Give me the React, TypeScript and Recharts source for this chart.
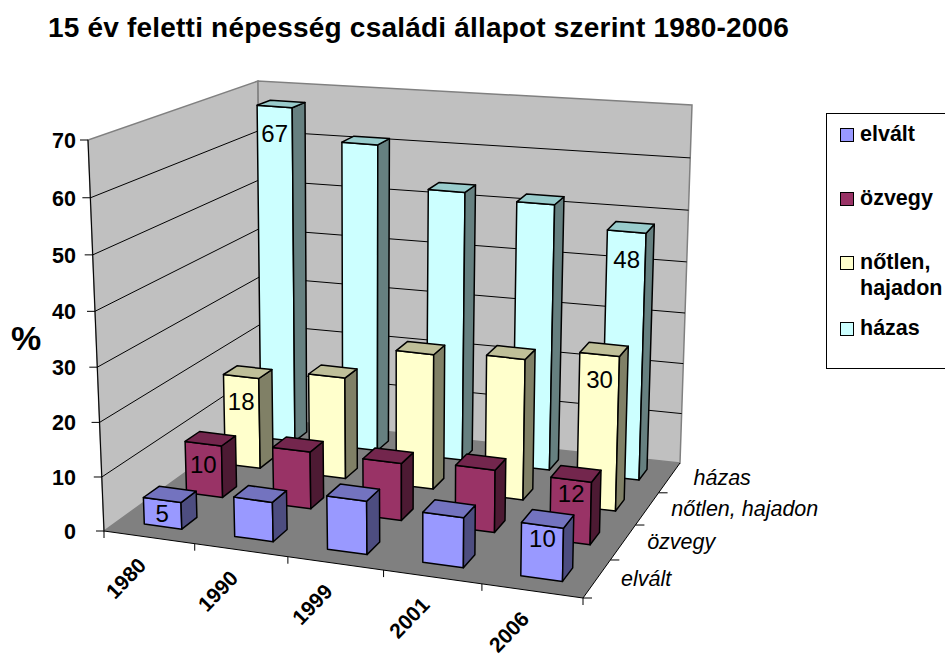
import React from 'react';
import { ComposedChart, Bar, XAxis, YAxis, CartesianGrid, Legend } from 'recharts';

const YEARS = ['1980', '1990', '1999', '2001', '2006'];
const HAZAS = [67.3, 61.3, 53.4, 52.4, 48.4];
const NOTLEN = [18, 20, 26.5, 27.5, 30];
const OZVEGY = [10, 11, 11, 12, 12];
const ELVALT = [5, 7.4, 10, 9.4, 10];
const Y_TICKS = [0, 10, 20, 30, 40, 50, 60, 70];
const DEPTH_TICKS = [0.5, 1.5, 2.5, 3.5];
const DEPTH_LABELS = ['elvált', 'özvegy', 'nőtlen, hajadon', 'házas'];

const W = 945;
const H = 655;
const FONT = '"Liberation Sans", Arial, sans-serif';

// corners of the 3D box on screen: front/back, left/right, bottom/top
const FLB = [104, 531];
const FRB = [583, 598];
const BRB = [680, 463];
const BLB = [261, 418];
const FLT = [88, 140];
const FRT = [591, 210];
const BRT = [692, 105];
const BLT = [258, 81];

const warp = (t: number, r: number) => t / (t + (1 - t) * r);
const mix = (a: number[], b: number[], t: number) => [a[0] + (b[0] - a[0]) * t, a[1] + (b[1] - a[1]) * t];

// u along the years, d into the depth, h up the value axis, all 0..1
function project(u: number, d: number, h: number) {
  const uu = warp(u, 1.07);
  const dd = warp(d, 0.85);
  const hh = warp(h, 1.04);
  const front = mix(mix(FLB, FRB, uu), mix(FLT, FRT, uu), hh);
  const back = mix(mix(BLB, BRB, uu), mix(BLT, BRT, uu), hh);
  return mix(front, back, dd);
}

const pts = (list: number[][]) => list.map((p) => `${p[0].toFixed(1)},${p[1].toFixed(1)}`).join(' ');

const rows = YEARS.map((year, i) => ({
  year,
  hazas: HAZAS[i],
  notlen: NOTLEN[i],
  ozvegy: OZVEGY[i],
  elvalt: ELVALT[i],
}));

// back row first so that the front rows cover it
const SERIES = [
  { key: 'hazas', name: 'házas', depth: 3, front: '#CCFFFF', top: '#99CCCC', side: '#668080', labels: { 0: 27, 4: 28 } },
  { key: 'notlen', name: 'nőtlen, hajadon', depth: 2, front: '#FFFFCC', top: '#BFBF99', side: '#808066', labels: { 0: 25, 4: 25 } },
  { key: 'ozvegy', name: 'özvegy', depth: 1, front: '#993366', top: '#73264D', side: '#4D1A33', labels: { 0: 21, 4: 14 } },
  { key: 'elvalt', name: 'elvált', depth: 0, front: '#9999FF', top: '#7373BF', side: '#4D4D80', labels: { 0: 13, 4: 13 } },
];

const LEGEND_TOPS = [120, 184, 248, 314];

function Box3D(props: any) {
  const { x, y, width, value, index, series } = props;
  const u0 = x / W;
  const u1 = (x + width) / W;
  const h = 1 - y / H;
  const d0 = (series.depth + 0.32) / 4;
  const d1 = (series.depth + 0.68) / 4;
  const stroke = { stroke: '#000', strokeWidth: 1.5, strokeLinejoin: 'round' as const };
  const labelDy = series.labels[index];
  const tl = project(u0, d0, h);
  const tr = project(u1, d0, h);
  return (
    <g>
      <polygon points={pts([project(u0, d0, 0), project(u1, d0, 0), tr, tl])} fill={series.front} {...stroke} />
      <polygon points={pts([project(u1, d0, 0), project(u1, d1, 0), project(u1, d1, h), tr])} fill={series.side} {...stroke} />
      <polygon points={pts([tl, tr, project(u1, d1, h), project(u0, d1, h)])} fill={series.top} {...stroke} />
      {labelDy !== undefined && (
        <text x={(tl[0] + tr[0]) / 2} y={(tl[1] + tr[1]) / 2 + labelDy} textAnchor="middle" dominantBaseline="central" fontFamily={FONT} fontSize={24} fill="#000">
          {Math.round(value)}
        </text>
      )}
    </g>
  );
}

function GridLine(props: any) {
  const h = 1 - props.y1 / H;
  if (h < 0.01 || h > 0.99) return <g />;
  return (
    <polyline
      points={pts([project(0, 0, h), project(0, 1, h), project(1, 1, h)])}
      fill="none"
      stroke="#000"
      strokeWidth={1}
    />
  );
}

function ValueTick(props: any) {
  const p = project(0, 0, 1 - props.y / H);
  return (
    <g>
      <line x1={p[0] - 8} y1={p[1]} x2={p[0]} y2={p[1]} stroke="#000" />
      <text x={76} y={p[1] + 1} textAnchor="end" dominantBaseline="central" fontFamily={FONT} fontWeight="bold" fontSize={21.5} fill="#000">
        {props.payload.value}
      </text>
    </g>
  );
}

function YearTick(props: any) {
  const band = W / YEARS.length;
  const p = project(props.x / W, 0, 0);
  const a = project((props.x - band / 2) / W, 0, 0);
  const b = project((props.x + band / 2) / W, 0, 0);
  const tx = p[0] - 7;
  const ty = p[1] + 24;
  return (
    <g>
      <line x1={a[0]} y1={a[1]} x2={a[0]} y2={a[1] + 7} stroke="#000" />
      {props.index === YEARS.length - 1 && <line x1={b[0]} y1={b[1]} x2={b[0]} y2={b[1] + 7} stroke="#000" />}
      <text x={tx} y={ty} transform={`rotate(-46 ${tx} ${ty})`} textAnchor="end" dominantBaseline="central" fontFamily={FONT} fontWeight="bold" fontSize={21} fill="#000">
        {props.payload.value}
      </text>
    </g>
  );
}

function DepthTick(props: any) {
  const value = props.payload.value;
  const p = project(1, value / 4, 0);
  const a = project(1, (value - 0.5) / 4, 0);
  return (
    <g>
      <line x1={a[0]} y1={a[1]} x2={a[0] + 9} y2={a[1]} stroke="#000" />
      <text x={p[0] + 24} y={p[1]} dominantBaseline="central" fontFamily={FONT} fontStyle="italic" fontSize={21.5} fill="#000">
        {DEPTH_LABELS[Math.floor(value)]}
      </text>
    </g>
  );
}

function ChartLegend() {
  return (
    <div style={{ position: 'relative', width: 125, height: 256, boxSizing: 'border-box', border: '1px solid #000', background: '#fff', fontFamily: FONT, fontWeight: 'bold', fontSize: 21.5 }}>
      {[...SERIES].reverse().map((s, i) => (
        <div key={s.key} style={{ position: 'absolute', left: 13, top: LEGEND_TOPS[i] - 113, display: 'flex', alignItems: 'flex-start' }}>
          <span style={{ width: 12, height: 12, marginTop: 7, marginRight: 6, border: '1px solid #000', background: s.front, flexShrink: 0 }} />
          <span style={{ width: 88, lineHeight: '26px' }}>{s.name}</span>
        </div>
      ))}
    </div>
  );
}

export default function App() {
  return (
    <div style={{ position: 'fixed', left: 0, top: 0, width: W, height: H, overflow: 'hidden', background: '#fff' }}>
      <svg width={W} height={H} style={{ position: 'absolute', left: 0, top: 0 }}>
        <polygon points={pts([FLB, BLB, BLT, FLT])} fill="#C0C0C0" stroke="#808080" strokeWidth={1.5} />
        <polygon points={pts([BLB, BRB, BRT, BLT])} fill="#C0C0C0" stroke="#808080" strokeWidth={1.5} />
        <polygon points={pts([FLB, FRB, BRB, BLB])} fill="#808080" />
        <polyline points={pts([FLT, FLB, FRB, BRB])} fill="none" stroke="#000" strokeWidth={1} />
      </svg>
      <div style={{ position: 'absolute', left: 48, top: 12, fontFamily: FONT, fontWeight: 'bold', fontSize: 28, letterSpacing: 0.2, whiteSpace: 'nowrap' }}>
        15 év feletti népesség családi állapot szerint 1980-2006
      </div>
      <div style={{ position: 'absolute', left: 11, top: 319, fontFamily: FONT, fontWeight: 'bold', fontSize: 34 }}>%</div>
      <div style={{ position: 'absolute', left: 0, top: 0 }}>
        <ComposedChart width={W} height={H} data={rows} margin={{ top: 0, right: 0, bottom: 0, left: 0 }} barCategoryGap="29%">
          <CartesianGrid vertical={false} xAxisId="year" horizontal={(p: any) => <GridLine key={p.y1} {...p} />} />
          <XAxis xAxisId="year" dataKey="year" mirror height={30} interval={0} axisLine={false} tickLine={false} tick={(p: any) => <YearTick {...p} />} />
          <XAxis xAxisId="depth" type="number" domain={[0, 4]} ticks={DEPTH_TICKS} mirror height={30} interval={0} axisLine={false} tickLine={false} tick={(p: any) => <DepthTick {...p} />} />
          {SERIES.map((s) => (
            <XAxis key={s.key} xAxisId={s.key} dataKey="year" hide />
          ))}
          <YAxis mirror width={60} domain={[0, 70]} ticks={Y_TICKS} interval={0} axisLine={false} tickLine={false} tick={(p: any) => <ValueTick {...p} />} />
          {SERIES.map((s) => (
            <Bar key={s.key} xAxisId={s.key} dataKey={s.key} name={s.name} fill={s.front} isAnimationActive={false} shape={(p: any) => <Box3D {...p} series={s} />} />
          ))}
          <Legend layout="horizontal" verticalAlign="middle" wrapperStyle={{ left: 826, top: 113, width: 125, height: 256 }} content={() => <ChartLegend />} />
        </ComposedChart>
      </div>
    </div>
  );
}
